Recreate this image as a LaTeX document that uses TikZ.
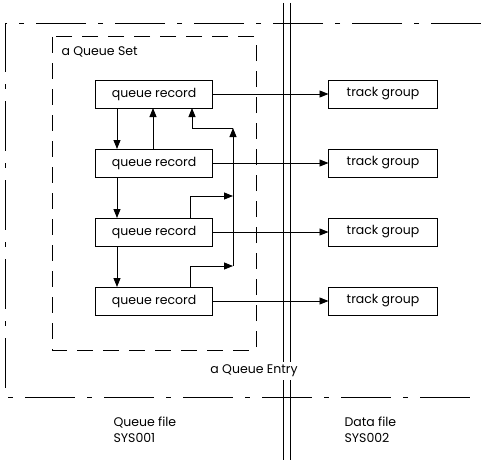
\documentclass[tikz,border=0pt]{standalone}
\usepackage{fontspec}
\setmainfont{Poppins}
\usetikzlibrary{arrows.meta, positioning}

\begin{document}
\begin{tikzpicture}[
    x=1pt, y=-1pt,
    node distance=41pt,
    every node/.style={font=\fontsize{12.5}{16}\selectfont},
    record/.style={rectangle, draw, line width=1pt, minimum width=117pt, minimum height=28pt, inner sep=0pt, outer sep=0pt},
    group/.style={record, minimum width=109pt},
    arrow/.style={-{Triangle[length=9pt, width=7pt]}, line width=0.8pt},
    frame/.style={line width=1pt, dash pattern=on 50pt off 12pt on 5pt off 12pt},
    setbox/.style={line width=1pt, dash pattern=on 16pt off 10pt}
]
\useasboundingbox (0,0) rectangle (481,460);

% Outer frame (queue entry)
\coordinate (tl) at (5,24);
\coordinate (bl) at (5,397);
\draw[frame] (481,24) -- (tl) -- (bl) -- (481,397);

% File separator
\draw[line width=0.9pt] (283,3) -- (283,460);
\draw[line width=0.9pt] (290,3) -- (290,460);

% Queue set
\draw[setbox] (52,37) rectangle (256,350);
\node[anchor=west] (setlabel) at (58,52) {a Queue Set};

% Queue records
\node[record] (q1) at (154,94) {queue record};
\node[record, below=of q1] (q2) {queue record};
\node[record, below=of q2] (q3) {queue record};
\node[record, below=of q3] (q4) {queue record};

% Track groups
\node[group, right=116pt of q1] (t1) {track group};
\node[group, right=116pt of q2] (t2) {track group};
\node[group, right=116pt of q3] (t3) {track group};
\node[group, right=116pt of q4] (t4) {track group};

\foreach \i in {1,...,4}
    \draw[arrow] (q\i) -- (t\i);

% Chain
\draw[arrow] ([xshift=-37pt]q1.south) -- ([xshift=-37pt]q2.north);
\draw[arrow] ([xshift=-1pt]q2.north) -- ([xshift=-1pt]q1.south);
\draw[arrow] ([xshift=-37pt]q2.south) -- ([xshift=-37pt]q3.north);
\draw[arrow] ([xshift=-37pt]q3.south) -- ([xshift=-37pt]q4.north);

% Return path
\coordinate (bustop) at (233,128);
\coordinate (busmid) at (233,196);
\coordinate (busbot) at (233,266);
\draw[arrow] ([xshift=36pt]q4.north) |- (busbot);
\draw[arrow] ([xshift=36pt]q3.north) |- (busmid);
\draw[arrow] (busbot) -- (bustop);
\draw[arrow] (bustop) -| ([xshift=38pt]q1.south);

% Labels
\node[fill=white, inner sep=3pt] (entry) at (254,371) {a Queue Entry};
\node[anchor=north west, align=left] (qfile) at (110,413) {Queue file\\SYS001};
\node[anchor=north west, align=left] (dfile) at (341,413) {Data file\\SYS002};

\end{tikzpicture}
\end{document}
